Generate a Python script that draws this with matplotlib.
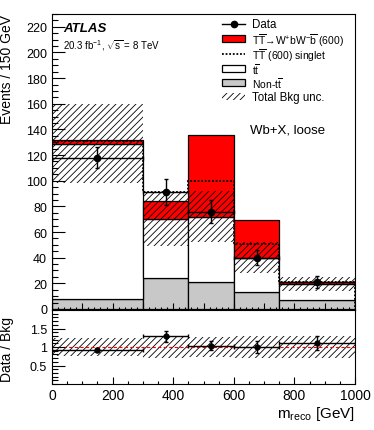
import matplotlib
matplotlib.use("Agg")
import matplotlib.pyplot as plt
import numpy as np
from matplotlib.patches import Rectangle
from matplotlib.lines import Line2D
from matplotlib.ticker import MultipleLocator, FixedLocator, FixedFormatter

plt.rcParams['font.family'] = ['Liberation Sans', 'DejaVu Sans']
plt.rcParams['mathtext.fontset'] = 'custom'
plt.rcParams['mathtext.rm'] = 'Liberation Sans'
plt.rcParams['mathtext.it'] = 'Liberation Sans:italic'
plt.rcParams['hatch.linewidth'] = 0.6
plt.rcParams['hatch.color'] = '#444444'

# ---- data ----
bin_edges = [0, 300, 450, 600, 750, 1000]
non_ttbar = [8, 24, 21, 13, 7]
ttbar = [121, 46, 51, 27, 12.5]
signal_wbwb = [3, 14, 64, 29, 1.5]
singlet_total = [131, 91, 100, 51, 21]
bkg_unc = [31, 21, 20, 12, 5.8]
data_vals = [118, 91, 76, 40, 21]
data_err = [8, 10, 9, 6, 4.5]
ratio_vals = [0.91, 1.29, 1.04, 1.0, 1.11]
ratio_err = [0.05, 0.15, 0.13, 0.16, 0.2]
ratio_unc = [0.24, 0.30, 0.28, 0.30, 0.30]
legend_labels = [
    'Data',
    r'T$\overline{\rm T}$→W$^{+}$bW$^{-}\overline{\rm b}$ (600)',
    r'T$\overline{\rm T}$ (600) singlet',
    r't$\overline{\rm t}$',
    r'Non-t$\overline{\rm t}$',
    'Total Bkg unc.',
]

edges = np.array(bin_edges, dtype=float)
left = edges[:-1]
width = np.diff(edges)
centers = left + width / 2
nontt = np.array(non_ttbar)
tt = np.array(ttbar)
sig = np.array(signal_wbwb)
bkg = nontt + tt

W, H = 374, 431
fig = plt.figure(figsize=(W / 100, H / 100), dpi=100)
ax = fig.add_axes([52 / W, 1 - 311 / H, 303 / W, 296 / H])
rax = fig.add_axes([52 / W, 1 - 385 / H, 303 / W, 74 / H])

lw = 0.9
ax.bar(left, nontt, width, align='edge', color='#c8c8c8', edgecolor='black', linewidth=lw, zorder=1)
ax.bar(left, tt, width, bottom=nontt, align='edge', color='white', edgecolor='black', linewidth=lw, zorder=1)
ax.bar(left, sig, width, bottom=bkg, align='edge', color='#ff0000', edgecolor='black', linewidth=lw, zorder=1)
unc = np.array(bkg_unc)
ax.bar(left, 2 * unc, width, bottom=bkg - unc, align='edge', fill=False, hatch='/////', linewidth=0, zorder=1.2)
ax.stairs(singlet_total, edges, linestyle=(0, (1, 1)), color='black', linewidth=1.3, zorder=1.5)
ax.errorbar(centers, data_vals, yerr=data_err, xerr=width / 2, fmt='o', color='black',
            markersize=4.5, elinewidth=1, capsize=1.5, zorder=5)

ax.set_xlim(0, 1000)
ax.set_ylim(-0.8, 230)
ax.yaxis.set_major_locator(MultipleLocator(20))
ax.yaxis.set_minor_locator(MultipleLocator(5))
ax.xaxis.set_major_locator(MultipleLocator(100))
ax.xaxis.set_minor_locator(MultipleLocator(20))
ax.tick_params(axis='both', which='both', direction='in', labelsize=9, width=0.8)
ax.tick_params(axis='y', which='major', length=9)
ax.tick_params(axis='y', which='minor', length=4.5)
ax.tick_params(axis='x', which='major', length=5)
ax.tick_params(axis='x', which='minor', length=2.5)
ax.tick_params(axis='x', labelbottom=False)
ax.set_ylabel('Events / 150 GeV', fontsize=10, loc='top')
for s in ax.spines.values():
    s.set_linewidth(0.8)

ax.text(0.036, 0.953, 'ATLAS', transform=ax.transAxes, fontsize=9.5, fontweight='bold',
        style='italic', va='center')
ax.text(0.036, 0.896, r'20.3 fb$^{-1}$, $\sqrt{\rm s}$ = 8 TeV', transform=ax.transAxes,
        fontsize=7, va='center')
ax.text(0.653, 0.61, 'Wb+X, loose', transform=ax.transAxes, fontsize=9.5, va='center')

# ---- legend (drawn in axes coordinates) ----
tr = ax.transAxes
px = lambda x: (x - 52) / 303
py = lambda y: (311 - y) / 296
hx0, hx1, tx = px(222), px(245), px(252)
row_y = [24.5, 39.5, 54.5, 69, 83, 97]
bh = 7 / 296
styles = ['data', 'red', 'dotted', 'white', 'gray', 'hatch']
for yy, st, lab in zip(row_y, styles, legend_labels):
    yc = py(yy)
    if st == 'data':
        ax.add_line(Line2D([hx0, hx1], [yc, yc], color='black', linewidth=1, transform=tr))
        ax.add_line(Line2D([(hx0 + hx1) / 2], [yc], color='black', marker='o', markersize=4.5,
                           transform=tr))
    elif st == 'dotted':
        ax.add_line(Line2D([hx0, hx1], [yc, yc], color='black', linestyle=(0, (1, 1)),
                           linewidth=1.3, transform=tr))
    elif st == 'hatch':
        ax.add_patch(Rectangle((hx0, yc - bh / 2), hx1 - hx0, bh, fill=False, hatch='/////',
                               linewidth=0, transform=tr))
    else:
        fc = {'red': '#ff0000', 'white': 'white', 'gray': '#c8c8c8'}[st]
        ax.add_patch(Rectangle((hx0, yc - bh / 2), hx1 - hx0, bh, facecolor=fc,
                               edgecolor='black', linewidth=lw, transform=tr, zorder=3))
    fs = 7.5 if '$' in lab else 8.3
    ax.text(tx, yc - 0.003, lab, transform=tr, fontsize=fs, va='center', ha='left')

# ---- ratio ----
runc = np.array(ratio_unc)
rax.bar(left, 2 * runc, width, bottom=1 - runc, align='edge', fill=False, hatch='/////', linewidth=0, zorder=1)
rax.axhline(1, color='red', linewidth=0.8, dashes=(3, 2), zorder=1.5)
rax.errorbar(centers, ratio_vals, yerr=ratio_err, xerr=width / 2, fmt='o', color='black',
             markersize=3.5, elinewidth=1, capsize=1.5, zorder=4)
rax.set_xlim(0, 1000)
rax.set_ylim(0, 2.0)
rax.yaxis.set_major_locator(FixedLocator([0.5, 1.0, 1.5]))
rax.yaxis.set_major_formatter(FixedFormatter(['0.5', '1', '1.5']))
rax.yaxis.set_minor_locator(MultipleLocator(0.1))
rax.xaxis.set_major_locator(MultipleLocator(200))
rax.xaxis.set_minor_locator(MultipleLocator(50))
rax.tick_params(axis='y', which='both', direction='in', labelsize=9, width=0.8)
rax.tick_params(axis='x', which='both', direction='in', labelsize=10, width=0.8)
rax.tick_params(axis='y', which='major', length=9)
rax.tick_params(axis='y', which='minor', length=4.5)
rax.tick_params(axis='x', which='major', length=5, pad=3)
rax.tick_params(axis='x', which='minor', length=2.5)
rax.set_ylabel('Data / Bkg', fontsize=10)
rax.set_xlabel(r'm$_{\rm reco}$ [GeV]', fontsize=11, loc='right', labelpad=1)
for s in rax.spines.values():
    s.set_linewidth(0.8)

ax.yaxis.set_label_coords(-0.125, 1.0)
rax.yaxis.set_label_coords(-0.125, 0.486)

fig.savefig('out.png', dpi=100)
